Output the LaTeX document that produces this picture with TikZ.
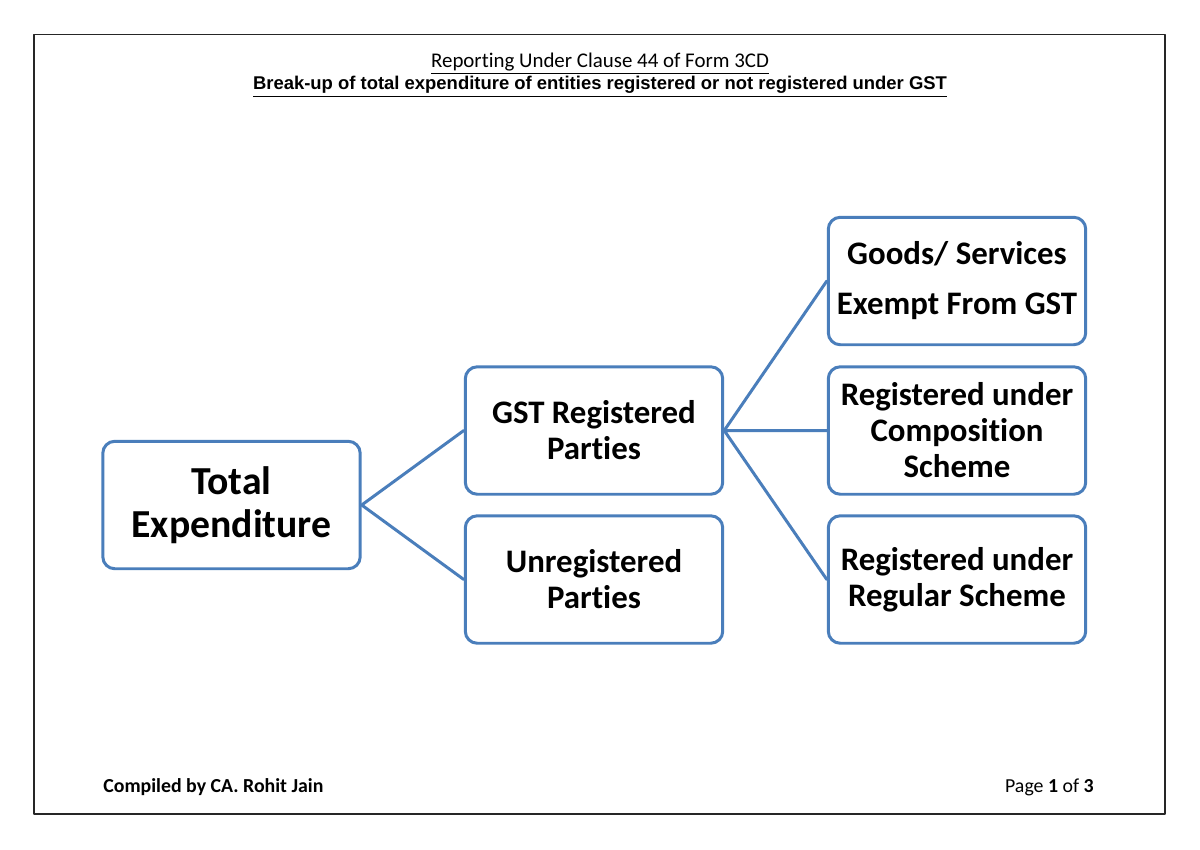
\documentclass[tikz,border=0pt]{standalone}
\usepackage{fontspec}
\setmainfont[RawFeature=-liga]{Carlito}
\newfontfamily\arialfont{Liberation Sans}
\definecolor{boxblue}{RGB}{74,126,187}
\begin{document}
\begin{tikzpicture}[x=0.02cm,y=-0.02cm,line join=round,line cap=round,
	box/.style={draw=boxblue,line width=1.7pt,rounded corners=0.24cm,fill=white,minimum width=5.15cm,minimum height=2.55cm,align=center,inner sep=0pt,font=\bfseries\fontsize{18.7}{20.5}\selectfont},
	link/.style={draw=boxblue,line width=1.7pt}]
	\useasboundingbox (0,0) rectangle (1200,849);
	\draw[line width=0.9pt,black!85] (34,34.5) rectangle (1165,814);
	% headings
	\node (head1) at (600,64) {\fontsize{11.9}{14}\selectfont\underline{Reporting Under Clause 44 of Form 3CD}};
	\node (head2) at (600,87) {\arialfont\bfseries\fontsize{10.5}{12}\selectfont\underline{Break-up of total expenditure of entities registered or not registered under GST}};
	% boxes
	\node[box,font=\bfseries\fontsize{22.6}{24.5}\selectfont] (tot) at (231.5,505) {Total\\Expenditure};
	\node[box] (gst) at (594,430.5) {GST Registered\\Parties};
	\node[box] (unreg) at (594,579.5) {Unregistered\\Parties};
	\node[box] (exempt) at (957,281) {Goods/ Services\\[8pt]Exempt From GST};
	\node[box] (comp) at (957,430.5) {Registered under\\Composition\\Scheme};
	\node[box] (regular) at (957,579.5) {Registered under\\Regular Scheme};
	\draw[link] (tot.east)--(gst.west) (tot.east)--(unreg.west);
	\draw[link] (gst.east)--(exempt.west) (gst.east)--(comp.west) (gst.east)--(regular.west);
	% footer
	\node[anchor=west,inner sep=0pt,font=\bfseries\fontsize{11.3}{13}\selectfont] (author) at (103,787) {Compiled by CA. Rohit Jain};
	\node[anchor=east,inner sep=0pt,font=\fontsize{11.3}{13}\selectfont] (page) at (1094,787) {Page \textbf{1} of \textbf{3}};
\end{tikzpicture}
\end{document}
